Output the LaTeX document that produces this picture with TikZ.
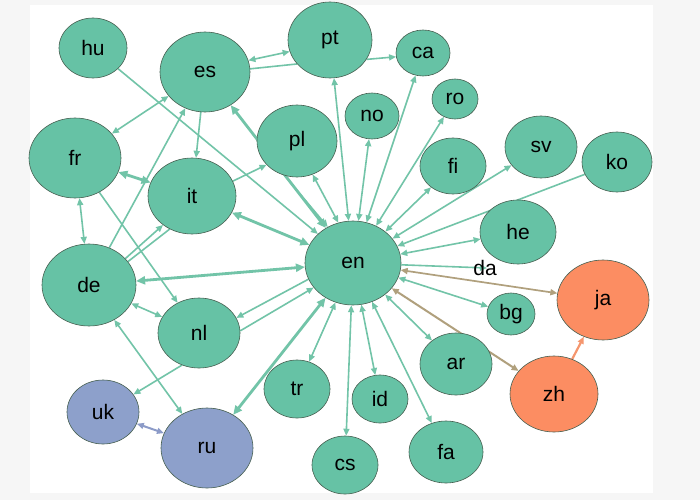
\documentclass[tikz,border=0pt]{standalone}
\usepackage{fontspec}
\setmainfont{Liberation Sans}
\usetikzlibrary{shapes.geometric,arrows.meta}
\pgfdeclarelayer{bglayer}\pgfdeclarelayer{edgelayer}
\pgfsetlayers{bglayer,edgelayer,main}
\definecolor{gfill}{RGB}{102,194,165}
\definecolor{ofill}{RGB}{252,141,98}
\definecolor{bfill}{RGB}{141,160,203}
\definecolor{gedge}{RGB}{114,196,168}
\definecolor{bredge}{RGB}{176,160,125}
\definecolor{oedge}{RGB}{245,150,110}
\definecolor{pedge}{RGB}{140,155,200}
\definecolor{nborder}{RGB}{70,95,80}
\definecolor{outerbg}{RGB}{246,246,246}
\begin{document}
\begin{tikzpicture}[x=1pt,y=-1pt,
  lang/.style={ellipse, draw=nborder, line width=0.6pt, fill=gfill, inner sep=0pt,
    font=\fontsize{21}{25}\selectfont},
  sz/.style 2 args={minimum width=#1pt, minimum height=#2pt},
  ln/.style={draw=gedge, line width=1.6pt, -{Triangle[length=7pt,width=6pt]}},
  lnb/.style={draw=gedge, line width=1.6pt, {Triangle[length=7pt,width=6pt]}-{Triangle[length=7pt,width=6pt]}},
  lnp/.style={draw=gedge, line width=1.6pt},
  lnt/.style={draw=gedge, line width=2.8pt, {Triangle[length=9pt,width=8pt]}-{Triangle[length=9pt,width=8pt]}}
]
\begin{pgfonlayer}{bglayer}
\fill[outerbg] (0,0) rectangle (700,500);
\fill[white] (30,5) rectangle (653,493);
\end{pgfonlayer}
\useasboundingbox (0,0) rectangle (700,500);

\node[lang, sz={68}{60}] (hu) at (93,48) {hu};
\node[lang, sz={90}{80}] (es) at (205,72) {es};
\node[lang, sz={84}{76}] (pt) at (330,40) {pt};
\node[lang, sz={54}{46}] (ca) at (423,53) {ca};
\node[lang, sz={54}{46}] (no) at (372,116) {no};
\node[lang, sz={46}{40}] (ro) at (455,99) {ro};
\node[lang, sz={80}{72}] (pl) at (297,141) {pl};
\node[lang, sz={92}{80}] (fr) at (75,158) {fr};
\node[lang, sz={88}{76}] (it) at (192,196) {it};
\node[lang, sz={66}{56}] (fi) at (453,166) {fi};
\node[lang, sz={72}{62}] (sv) at (541,147) {sv};
\node[lang, sz={70}{60}] (ko) at (617,162) {ko};
\node[lang, sz={76}{64}] (he) at (518,232) {he};
\node[lang, sz={96}{84}] (en) at (353,263) {en};
\node[font=\fontsize{21}{25}\selectfont, inner sep=0pt] (da) at (485,268) {da};
\node[lang, sz={94}{82}] (de) at (89,285) {de};
\node[lang, sz={82}{70}] (nl) at (199,333) {nl};
\node[lang, fill=ofill, sz={92}{80}] (ja) at (603,300) {ja};
\node[lang, sz={48}{42}] (bg) at (511,314) {bg};
\node[lang, sz={72}{62}] (ar) at (456,364) {ar};
\node[lang, fill=ofill, sz={88}{76}] (zh) at (554,394) {zh};
\node[lang, sz={66}{58}] (tr) at (297,389) {tr};
\node[lang, sz={56}{48}] (id) at (380,399) {id};
\node[lang, fill=bfill, sz={72}{64}] (uk) at (103,412) {uk};
\node[lang, fill=bfill, sz={92}{80}] (ru) at (207,448) {ru};
\node[lang, sz={66}{58}] (cs) at (345,465) {cs};
\node[lang, sz={74}{62}] (fa) at (446,452) {fa};

\begin{pgfonlayer}{edgelayer}
\draw[ln] (hu) -- (en);
\draw[lnb] (es.15) -- (pt.196);
\draw[lnp] (es.4) -- (pt.216);
\draw[ln] (pt.-28) -- (ca.188);
\draw[lnb] (es) -- (fr);
\draw[ln] (es) -- (it);
\draw[lnt] (en) -- (es);
\draw[ln] (pl.250) -- (en.125);
\draw[lnb] (en.110) -- (pl.-65);
\draw[ln] (it.20) -- (pl.218);
\draw[lnt] (it) -- (en);
\draw[lnt] (it) -- (fr);
\draw[lnb] (fr) -- (de);
\draw[ln] (fr) -- (nl);
\draw[ln] (de) -- (es);
\draw[ln] (de.36) -- (it.225);
\draw[lnp] (de.31) -- (it.236);
\draw[lnt] (de) -- (en);
\draw[lnb] (de) -- (nl);
\draw[lnb] (de) -- (ru);
\draw[ln] (en.200) -- (nl.22);
\draw[ln] (nl.3) -- (en.212);
\draw[ln] (nl.242) -- (uk.30);
\draw[lnb, draw=pedge, line width=2pt] (uk) -- (ru);
\draw[lnt] (ru) -- (en);
\draw[lnb] (en) -- (tr);
\draw[lnb] (en) -- (cs);
\draw[lnb] (en) -- (id);
\draw[lnb] (en) -- (fa);
\draw[lnb] (en) -- (ar);
\draw[lnb, draw=bredge, line width=2pt] (en) -- (zh);
\draw[lnb, draw=bredge, line width=1.7pt] (en) -- (ja);
\draw[lnb] (en) -- (bg);
\draw[ln] (en) -- ([xshift=2pt]da.center);
\draw[lnb] (en) -- (he);
\draw[ln] (ko) -- (en);
\draw[lnb] (en) -- (sv);
\draw[lnb] (en) -- (fi);
\draw[lnb] (en) -- (ro);
\draw[lnb] (en) -- (ca);
\draw[lnb] (en) -- (no);
\draw[lnb] (en) -- (pt);
\draw[ln, draw=oedge, line width=2.2pt] (zh) -- (ja);
\end{pgfonlayer}
\end{tikzpicture}
\end{document}
